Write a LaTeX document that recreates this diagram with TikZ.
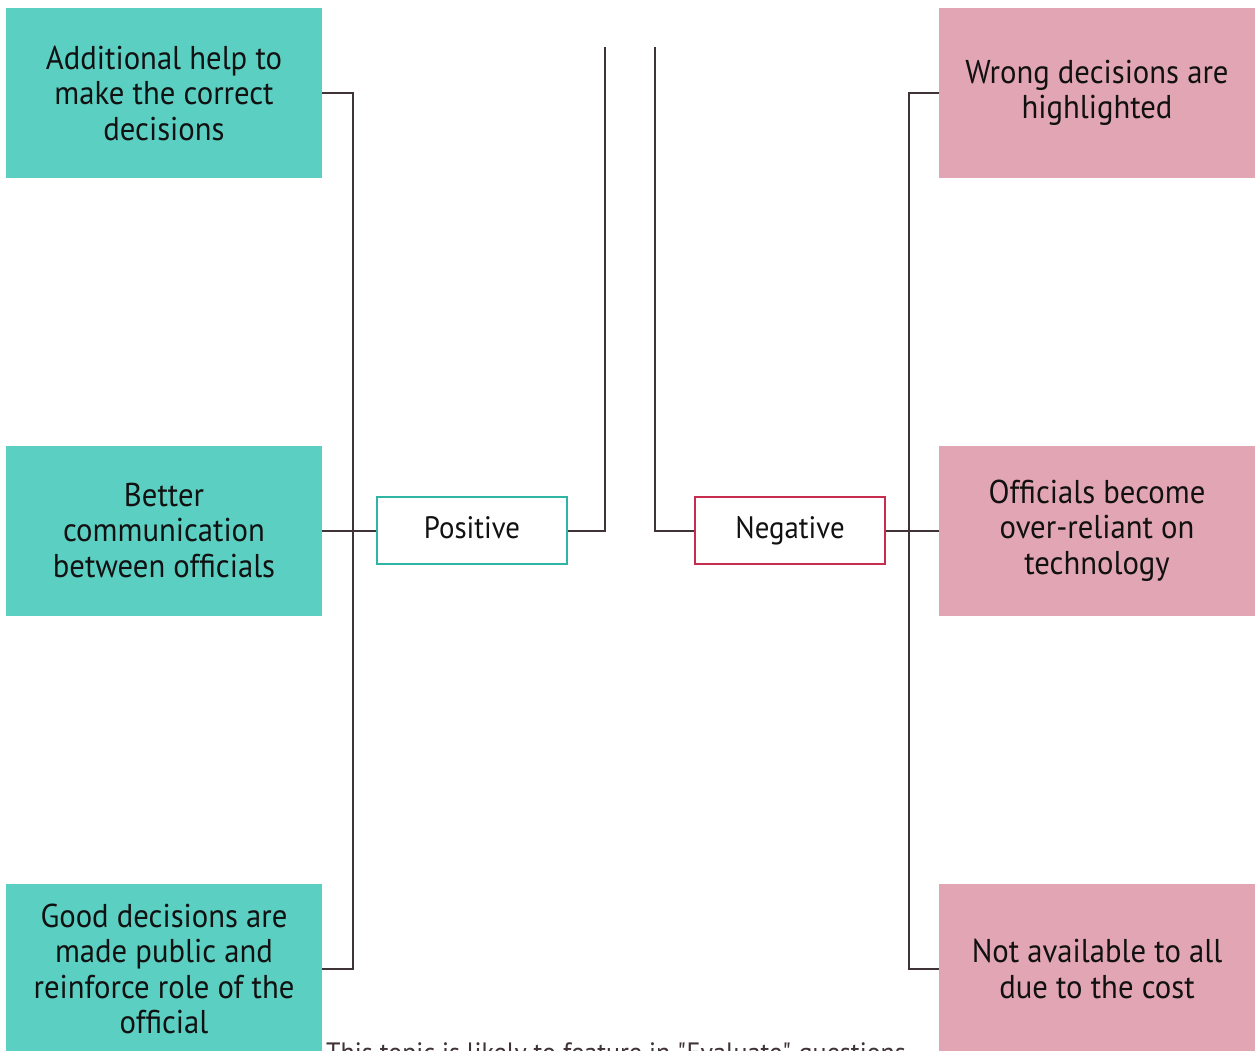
\documentclass[tikz,border=0pt]{standalone}
\usepackage{fontspec}
\setmainfont{PT Sans}[FakeStretch=0.93]
\definecolor{profill}{HTML}{5BCFC2}
\definecolor{confill}{HTML}{E2A5B3}
\definecolor{proedge}{HTML}{2EB5A5}
\definecolor{conedge}{HTML}{C62D4E}
\definecolor{wire}{HTML}{3F3338}
\definecolor{ink}{HTML}{111111}
\begin{document}
\begin{tikzpicture}[x=1pt,y=-1pt,
  card/.style={minimum width=316pt, minimum height=170pt, inner sep=0pt,
    align=center, text=ink, font=\fontsize{33}{35.5}\selectfont},
  procard/.style={card, fill=profill},
  concard/.style={card, fill=confill},
  headbox/.style={minimum width=190pt, minimum height=67pt, inner sep=0pt,
    text height=22pt, text depth=7pt,
    fill=white, line width=2pt, text=ink, font=\fontsize{31}{34}\selectfont},
  conn/.style={draw=wire, line width=2pt}]
\useasboundingbox (0,0) rectangle (1255,1051);
\clip (0,0) rectangle (1255,1051);

% positive side
\node[procard] (a1) at (164,93) {Additional help to\\make the correct\\decisions};
\node[procard] (a2) at (164,530.5) {Better\\communication\\between officials};
\node[procard] (a3) at (164,969) {Good decisions are\\made public and\\reinforce role of the\\official};
\node[headbox, draw=proedge] (pos) at (472,530.5) {Positive};

% negative side
\node[concard] (b1) at (1097,93) {Wrong decisions are\\highlighted};
\node[concard] (b2) at (1097,530.5) {Officials become\\over-reliant on\\technology};
\node[concard] (b3) at (1097,969) {Not available to all\\due to the cost};
\node[headbox, draw=conedge] (neg) at (790,530.5) {Negative};

% free ends of the two stems
\coordinate (ptop) at (605,47);
\coordinate (ntop) at (655,47);

% connectors
\draw[conn] (a1.east) -- ++(31,0) |- (a3.east);
\draw[conn] (a2.east) -- (pos.west);
\draw[conn] (pos.east) -| (ptop);
\draw[conn] (neg.west) -| (ntop);
\draw[conn] (neg.east) -- (b2.west);
\draw[conn] (b1.west) -- ++(-30,0) |- (b3.west);

% footer line, running off the bottom edge
\node[anchor=north west, inner sep=0pt, text=wire, font=\fontsize{28}{30}\selectfont]
  (foot) at (326,1042) {This topic is likely to feature in \textquotedbl Evaluate\textquotedbl{} questions};
\end{tikzpicture}
\end{document}
